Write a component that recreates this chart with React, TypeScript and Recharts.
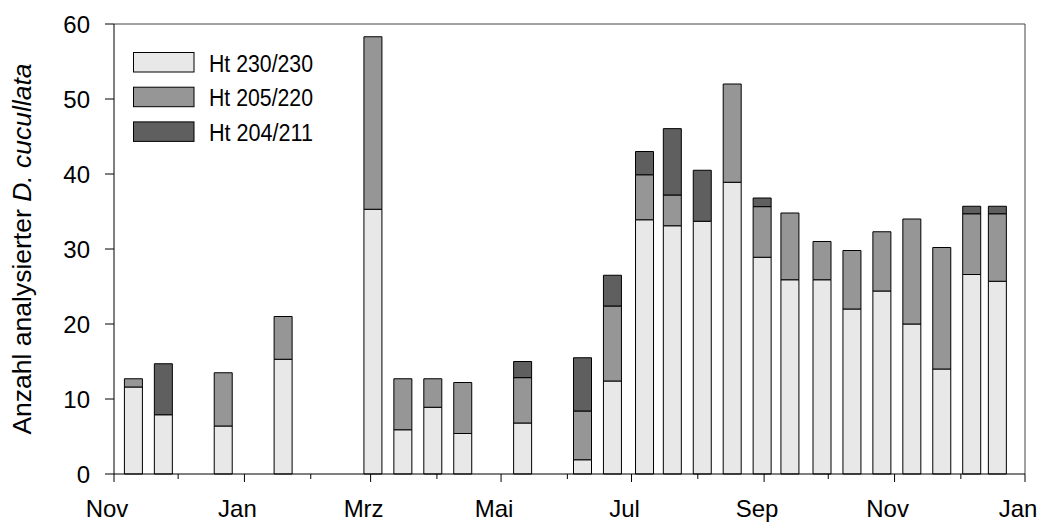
import React from "react";
import { BarChart, Bar, XAxis, YAxis, ReferenceLine, Legend } from "recharts";

// days since 1 Nov of the sampling dates
const sampleDays = [9, 23, 51, 79, 121, 135, 149, 163, 191, 219, 233, 248, 261, 275, 289, 303, 316, 331, 345, 359, 373, 387, 401, 413];
const ht230 = [11.6, 7.9, 6.4, 15.3, 35.3, 5.9, 8.9, 5.4, 6.8, 1.9, 12.4, 33.9, 33.1, 33.7, 38.9, 28.9, 25.9, 25.9, 22.0, 24.4, 20.0, 14.0, 26.6, 25.7];
const ht205 = [1.1, 0, 7.1, 5.7, 23.0, 6.8, 3.8, 6.8, 6.05, 6.5, 10.0, 6.0, 4.1, 0, 13.1, 6.75, 8.9, 5.1, 7.8, 7.9, 14.0, 16.2, 8.1, 9.0];
const ht204 = [0, 6.8, 0, 0, 0, 0, 0, 0, 2.15, 7.1, 4.1, 3.1, 8.85, 6.8, 0, 1.15, 0, 0, 0, 0, 0, 0, 1.0, 1.0];

const seriesNames = ["Ht 230/230", "Ht 205/220", "Ht 204/211"];
const monthStarts = [0, 30, 61, 92, 120, 151, 181, 212, 242, 273, 304, 334, 365, 396, 426];
const monthLabels = ["Nov", "Dez", "Jan", "Feb", "Mrz", "Apr", "Mai", "Jun", "Jul", "Aug", "Sep", "Okt", "Nov", "Dez", "Jan"];
const yTicks = [0, 10, 20, 30, 40, 50, 60];

const data = sampleDays.map((d, i) => ({ day: d, a: ht230[i], b: ht205[i], c: ht204[i] }));

const FONT = "'Liberation Sans', Arial, sans-serif";

const MonthTick = (props: any) => {
  const { x, y, payload, index } = props;
  const major = index % 2 === 0;
  return (
    <g>
      <line x1={x} x2={x} y1={y} y2={y + (major ? 8 : 5)} stroke="#000" strokeWidth={1} />
      {major && (
        <text x={x - 7} y={y + 43} textAnchor="middle" fontSize={24} fontFamily={FONT} fill="#000">
          {monthLabels[monthStarts.indexOf(payload.value)]}
        </text>
      )}
    </g>
  );
};

const LegendBox = (props: any) => {
  const items = [...(props.payload || [])].sort(
    (p: any, q: any) => seriesNames.indexOf(p.value) - seriesNames.indexOf(q.value)
  );
  return (
    <svg width={340} height={160} style={{ display: "block", overflow: "visible" }}>
      {items.map((p: any, i: number) => (
        <g key={p.value}>
          <rect x={133.5} y={52.5 + i * 34.7} width={60.5} height={19.5} fill={p.color} stroke="#000" strokeWidth={1} />
          <text x={209} y={71.5 + i * 34.7} fontSize={23} fontFamily={FONT} fill="#000" textLength={104} lengthAdjust="spacingAndGlyphs">
            {p.value}
          </text>
        </g>
      ))}
    </svg>
  );
};

const YTitle = () => (
  <text transform="translate(31,249) rotate(-90)" textAnchor="middle" fontSize={26.5} fontFamily={FONT} fill="#000">
    <tspan>Anzahl analysierter </tspan>
    <tspan fontStyle="italic">D. cucullata</tspan>
  </text>
);

export default function App() {
  return (
    <div style={{ position: "absolute", left: 0, top: 0, width: 1041, height: 522, background: "#fff" }}>
      <BarChart width={1041} height={522} data={data} margin={{ top: 24, right: 16, bottom: 0, left: 14 }}>
        <XAxis
          dataKey="day"
          type="number"
          domain={[0, 426]}
          ticks={monthStarts}
          interval={0}
          height={48}
          tickSize={0}
          tickMargin={0}
          tickLine={false}
          axisLine={{ stroke: "#000", strokeWidth: 1 }}
          tick={<MonthTick />}
        />
        <YAxis
          type="number"
          domain={[0, 60]}
          ticks={yTicks}
          width={100}
          tickSize={9}
          tickMargin={15}
          tickLine={{ stroke: "#000", strokeWidth: 1 }}
          axisLine={{ stroke: "#000", strokeWidth: 1 }}
          tick={{ fill: "#000", fontSize: 24, fontFamily: FONT }}
          label={{ content: () => <YTitle /> }}
        />
        <ReferenceLine y={60} stroke="#444" strokeWidth={1} />
        <ReferenceLine x={426} stroke="#444" strokeWidth={1} />
        <Legend
          layout="vertical"
          align="center"
          verticalAlign="middle"
          wrapperStyle={{ left: 0, top: 0, width: 340, height: 160 }}
          content={<LegendBox />}
        />
        <Bar dataKey="a" name={seriesNames[0]} stackId="s" fill="#e8e8e8" stroke="#000" strokeWidth={1} barSize={18} isAnimationActive={false} />
        <Bar dataKey="b" name={seriesNames[1]} stackId="s" fill="#969696" stroke="#000" strokeWidth={1} barSize={18} isAnimationActive={false} />
        <Bar dataKey="c" name={seriesNames[2]} stackId="s" fill="#5f5f5f" stroke="#000" strokeWidth={1} barSize={18} isAnimationActive={false} />
      </BarChart>
    </div>
  );
}
